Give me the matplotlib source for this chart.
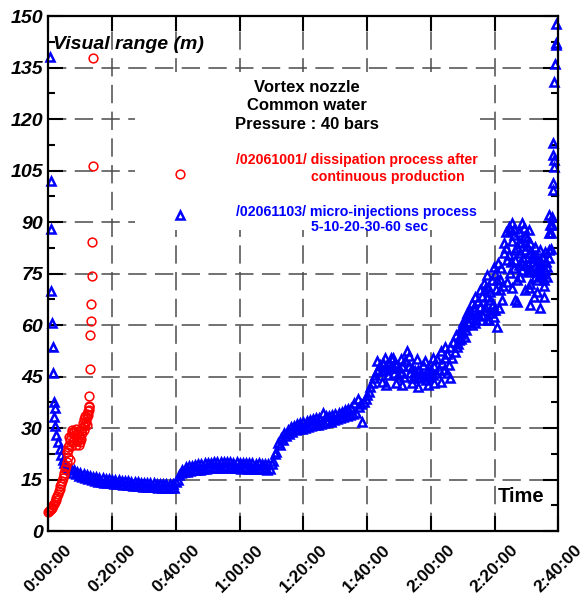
import numpy as np
import matplotlib
matplotlib.use("Agg")
import matplotlib.pyplot as plt
from matplotlib.ticker import MultipleLocator
from matplotlib.patches import Rectangle

plt.rcParams['font.family'] = ['Liberation Sans', 'DejaVu Sans']

# ---------------- data (time in minutes, visual range in m) ----------------
x_ticks = [0, 20, 40, 60, 80, 100, 120, 140, 160]
x_tick_labels = ["0:00:00", "0:20:00", "0:40:00", "1:00:00", "1:20:00",
                 "1:40:00", "2:00:00", "2:20:00", "2:40:00"]
y_ticks = [0, 15, 30, 45, 60, 75, 90, 105, 120, 135, 150]

# /02061001/ dissipation (red circles)
red_t = [0.0, 0.25, 0.5, 0.75, 1.0, 1.25, 1.5, 1.75, 2.0, 2.25, 2.5, 2.75, 3.0,
         3.25, 3.5, 3.75, 4.0, 4.25, 4.5, 4.75, 5.0, 5.25, 5.5, 5.75, 6.0,
         5.8, 6.0, 6.2, 6.5, 6.8, 7.0, 7.3, 7.5, 7.8, 8.0, 8.3, 8.5, 8.8, 9.0,
         9.3, 9.5, 9.8, 10.0, 10.2, 10.5, 10.5, 10.8, 11.0, 11.2, 11.5, 11.5,
         11.8, 12.0, 12.2, 12.3, 12.5, 12.6, 12.8, 7.0, 8.5, 6.6,
         7.6, 8.8, 9.6, 10.3, 6.4, 7.9, 9.2, 11.0, 12.0,
         12.7, 12.8, 13.0, 13.1, 13.2, 13.4, 13.6, 13.7, 13.9, 14.1, 41.3]
red_v = [5.5, 5.7, 6.0, 6.3, 6.7, 7.1, 7.5, 8.0, 8.5, 9.1, 9.7, 10.3, 10.9,
         11.6, 12.3, 13.0, 13.8, 14.6, 15.4, 16.2, 17.0, 18.0, 19.0, 20.2, 21.5,
         23.0, 24.5, 23.5, 25.0, 26.5, 27.8, 28.8, 29.5, 28.5, 29.2, 28.0, 29.6,
         28.4, 27.2, 26.5, 28.0, 27.0, 25.8, 26.8, 28.5, 30.0, 31.5, 30.5, 32.5,
         31.2, 33.5, 32.0, 34.0, 33.2, 35.0, 33.8, 36.0, 35.2, 24.8, 25.2, 20.8,
         26.0, 26.2, 25.0, 29.0, 27.5, 27.0, 29.0, 29.5, 31.0,
         36.4, 39.4, 47.2, 57.0, 61.2, 66.0, 74.3, 84.1, 106.3, 137.7, 104.0]

# /02061103/ micro-injections (blue triangles), regular part: one reading every 0.5 min from 2.0 min
blue_dense_start = 2.0
blue_dense_step = 0.5
blue_dense_v = [
    30.5, 28.0, 25.8, 23.8, 22.0, 20.8, 19.8, 19.0, 18.5, 18.0,
    18.2, 17.0, 17.8, 16.5, 17.3, 16.1, 16.9, 15.7, 16.6, 15.4,
    16.3, 15.1, 16.0, 14.8, 15.8, 14.6, 15.6, 14.4, 15.4, 14.2,
    15.3, 14.1, 15.2, 14.0, 15.1, 13.9, 15.0, 13.8, 14.9, 13.7,
    14.8, 13.6, 14.7, 13.5, 14.6, 13.4, 14.5, 13.3, 14.4, 13.2,
    14.3, 13.1, 14.2, 13.0, 14.1, 12.9, 14.0, 12.8, 14.0, 12.8,
    13.9, 12.7, 13.9, 12.7, 13.8, 12.6, 13.8, 12.6, 13.7, 12.5,
    13.7, 12.5, 13.6, 12.4, 13.6, 12.6, 14.2, 15.0, 16.3, 16.8,
    17.9, 17.2, 18.6, 17.3, 18.8, 17.5, 19.0, 17.7, 19.2, 17.8,
    19.4, 17.9, 19.5, 18.1, 19.7, 18.2, 19.8, 18.3, 19.9, 18.4,
    20.0, 18.5, 20.1, 18.4, 20.0, 18.5, 20.2, 18.6, 20.0, 18.4,
    20.1, 18.5, 19.9, 18.3, 20.0, 18.4, 19.8, 18.2, 19.9, 18.3,
    19.8, 18.2, 19.7, 18.1, 19.8, 18.2, 19.6, 18.1, 19.7, 18.0,
    19.5, 18.0, 19.6, 17.9, 19.4, 18.1, 19.6, 20.5, 22.5, 23.0,
    25.5, 25.0, 27.2, 26.6, 28.6, 27.6, 29.5, 28.4, 30.2, 28.8,
    30.7, 29.3, 31.1, 29.6, 31.5, 29.8, 31.7, 30.1, 32.0, 30.4,
    32.3, 30.6, 32.6, 30.8, 32.8, 31.0, 33.0, 31.3, 34.5, 31.5,
    33.4, 31.7, 33.6, 31.9, 33.8, 32.2, 34.1, 32.5, 34.5, 32.8,
    34.8, 33.1, 35.2, 33.4, 35.5, 33.7, 35.8, 34.0, 37.2, 34.5,
    38.5, 36.0, 37.0, 31.8, 37.5, 38.5, 39.5, 40.5, 42.0, 43.0,
    44.5, 45.5, 46.5, 47.0, 48.5, 46.5, 49.0, 47.0, 48.0, 45.5,
    47.5, 50.5, 48.0, 46.0, 48.5, 45.5, 47.5, 46.0, 48.0, 45.0,
    49.5, 52.5, 48.0, 46.0, 47.5, 44.5, 46.5, 45.0, 47.0, 44.5,
    46.0, 48.5, 45.5, 44.0, 46.5, 45.0, 47.0, 45.5, 48.0, 46.0,
    50.0, 47.0, 52.5, 49.0, 47.0, 50.5, 46.0, 48.5, 53.5, 50.5,
    55.0, 52.0, 57.0, 54.5, 58.5, 56.0, 60.0]

# blue: scattered readings
blue_t = [0.5, 0.7, 0.8, 0.9, 1.1, 1.3, 1.5, 1.7, 1.9, 1.7, 41.3,
          104.5, 106.0, 108.0, 109.0, 110.5, 111.0, 113.0, 114.0, 115.5, 116.0,
          118.0, 119.0, 120.5, 121.0, 123.0, 124.5, 125.0, 126.0, 103.0, 105.5,
          128.2, 128.8, 130.2, 130.8, 131.3, 133.4, 136.5, 139.7, 137.6,
          130.8, 132.9, 131.8, 133.4, 134.4, 135.5, 133.9, 135.5, 136.5, 137.6,
          138.6, 137.0, 138.6, 138.1, 140.2, 139.7, 140.7, 141.8, 142.3, 141.2,
          142.8, 143.9, 144.9, 145.4, 146.5, 144.4, 145.4, 144.9, 145.9, 147.5,
          148.6, 149.1, 150.6, 150.1, 146.5, 148.0, 149.6, 150.6, 151.7, 148.6,
          151.2, 152.7, 153.8, 154.9, 157.0, 152.7, 154.3, 155.9, 156.4, 155.4,
          153.3, 148.0, 150.6, 149.6, 153.3, 155.4, 152.2, 147.0, 151.2, 154.3,
          157.0, 157.4, 157.0, 147.5, 151.2, 152.7, 154.3, 155.9, 133.9, 139.7,
          140.7, 157.5,
          129.5, 130.0, 131.0, 131.5, 132.0, 132.5, 133.0, 134.0, 134.8, 135.0,
          136.0, 136.0, 137.0, 137.5, 138.0, 138.5, 139.0, 139.5, 140.0, 140.5,
          141.0, 141.5, 142.0, 142.5, 143.0, 143.5, 144.0, 144.5, 145.0, 145.5,
          146.0, 146.5, 147.0, 147.5, 148.2, 148.5, 149.0, 149.5, 150.0, 150.5,
          151.0, 151.5, 152.0, 152.5, 153.0, 153.5, 154.0, 154.5, 155.0, 155.5,
          156.0, 156.5, 157.0, 146.0, 143.5, 149.5, 147.0, 151.0,
          159.3, 159.1, 159.2, 159.0, 158.7, 158.2, 158.4, 158.5, 158.6, 158.4,
          158.3, 158.1, 157.9, 157.8]
blue_v = [138.2, 102.0, 87.9, 69.9, 60.5, 53.5, 45.9, 37.7, 35.8, 33.3, 92.0,
          43.5, 42.5, 50.5, 43.0, 50.0, 42.5, 51.0, 43.0, 50.0, 42.0,
          49.5, 42.5, 50.5, 43.0, 43.5, 53.5, 51.5, 44.5, 49.5, 50.5,
          53.7, 55.6, 59.5, 56.6, 63.4, 65.3, 64.4, 64.4, 61.5,
          60.0, 60.0, 62.9, 64.4, 63.4, 65.3, 68.3, 70.2, 72.2, 68.3,
          67.3, 65.3, 63.4, 61.5, 64.4, 77.0, 73.1, 70.2, 67.3, 64.9,
          80.9, 78.9, 75.1, 70.7, 67.3, 88.6, 89.6, 87.7, 86.2, 84.3,
          89.6, 88.2, 87.7, 85.3, 81.9, 80.9, 81.9, 80.9, 79.4, 78.0,
          77.0, 77.0, 77.5, 79.9, 81.9, 74.1, 74.6, 76.0, 74.1, 73.1,
          73.1, 74.1, 70.7, 70.2, 69.7, 68.3, 68.3, 66.8, 65.8, 64.9,
          92.0, 89.1, 86.7, 87.2, 83.8, 82.8, 81.9, 81.4, 60.5, 62.4,
          59.5, 82.0,
          57.5, 61.0, 58.5, 60.8, 64.5, 62.0, 66.5, 61.5, 67.0, 62.5,
          68.5, 63.0, 70.5, 74.5, 71.0, 69.5, 73.0, 66.0, 75.0, 70.5,
          78.0, 73.5, 76.5, 71.5, 84.0, 82.5, 72.5, 80.5, 78.5, 84.5,
          76.5, 79.0, 82.5, 77.5, 84.0, 76.0, 79.5, 77.5, 83.0, 75.5,
          81.0, 76.0, 80.5, 79.5, 75.5, 79.0, 76.0, 78.5, 75.0, 71.5,
          78.5, 77.0, 79.5, 88.0, 87.0, 86.0, 73.0, 72.0,
          147.7, 142.2, 141.6, 135.9, 130.9, 112.9, 109.5, 108.2, 105.9, 101.3,
          99.3, 91.6, 89.1, 86.7]

# ---------------- figure ----------------
fig = plt.figure(figsize=(5.84, 5.98), dpi=100)
ax = fig.add_axes([0.0830, 0.1120, 0.8733, 0.8612])

blue_dense_t = blue_dense_start + blue_dense_step * np.arange(len(blue_dense_v))

tri = dict(marker='^', linestyle='none', markersize=5.3, markerfacecolor='none',
           markeredgecolor='#0000ff', markeredgewidth=1.8, zorder=3, clip_on=False)
ax.plot(blue_dense_t, blue_dense_v, **tri)
ax.plot(blue_t, blue_v, **tri)
ax.plot(red_t, red_v, marker='o', linestyle='none', markersize=6.3,
        markerfacecolor='none', markeredgecolor='#ff0000', markeredgewidth=1.1,
        zorder=4, clip_on=False)

ax.set_xlim(0, 160)
ax.set_ylim(0, 150)
ax.set_xticks(x_ticks)
ax.set_xticklabels(x_tick_labels, rotation=45, ha='center',
                   fontsize=12.5, fontweight='bold')
ax.set_yticks(y_ticks)
ax.set_yticklabels([str(v) for v in y_ticks], fontsize=14,
                   fontweight='bold', fontstyle='italic')
ax.yaxis.set_minor_locator(MultipleLocator(7.5))

ax.tick_params(axis='both', which='major', direction='in', length=11, width=1.5,
               top=True, right=True, color='black')
ax.tick_params(axis='y', which='minor', direction='in', length=5, width=1.5,
               left=True, right=True)
ax.tick_params(axis='x', which='major', pad=8)
ax.tick_params(axis='y', which='major', pad=4)

for s in ax.spines.values():
    s.set_linewidth(1.6)
    s.set_zorder(5)

ax.set_axisbelow(True)
ax.grid(True, which='major', color='#4a4a4a', linestyle=(0, (12, 5.5)), linewidth=1.1)

# white box behind the annotation (hides the grid there)
ax.add_patch(Rectangle((0.170, 0.584), 0.676, 0.307, transform=ax.transAxes,
                       facecolor='white', edgecolor='none', zorder=1.5))

ax.text(0.0088, 0.9353, "Visual range (m)", transform=ax.transAxes,
        fontsize=14, fontweight='bold', fontstyle='italic', ha='left', va='baseline')
ax.text(0.881, 0.0569, "Time", transform=ax.transAxes,
        fontsize=14.5, fontweight='bold', ha='left', va='baseline')

for yb, s in zip([0.8524, 0.8169, 0.7800],
                 ["Vortex nozzle", "Common water", "Pressure : 40 bars"]):
    ax.text(0.506, yb, s, transform=ax.transAxes, fontsize=12,
            fontweight='bold', ha='center', va='baseline', zorder=6)

ax.text(0.3676, 0.7118, "/02061001/ dissipation process after", transform=ax.transAxes,
        fontsize=10.2, fontweight='bold', color='#ff0000', ha='left', va='baseline', zorder=6)
ax.text(0.5147, 0.6800, "continuous production", transform=ax.transAxes,
        fontsize=10.2, fontweight='bold', color='#ff0000', ha='left', va='baseline', zorder=6)
ax.text(0.3676, 0.6120, "/02061103/ micro-injections process", transform=ax.transAxes,
        fontsize=10.2, fontweight='bold', color='#0000ff', ha='left', va='baseline', zorder=6)
ax.text(0.5147, 0.5830, "5-10-20-30-60 sec", transform=ax.transAxes,
        fontsize=10.2, fontweight='bold', color='#0000ff', ha='left', va='baseline', zorder=6)

fig.savefig("out.png", dpi=100)
